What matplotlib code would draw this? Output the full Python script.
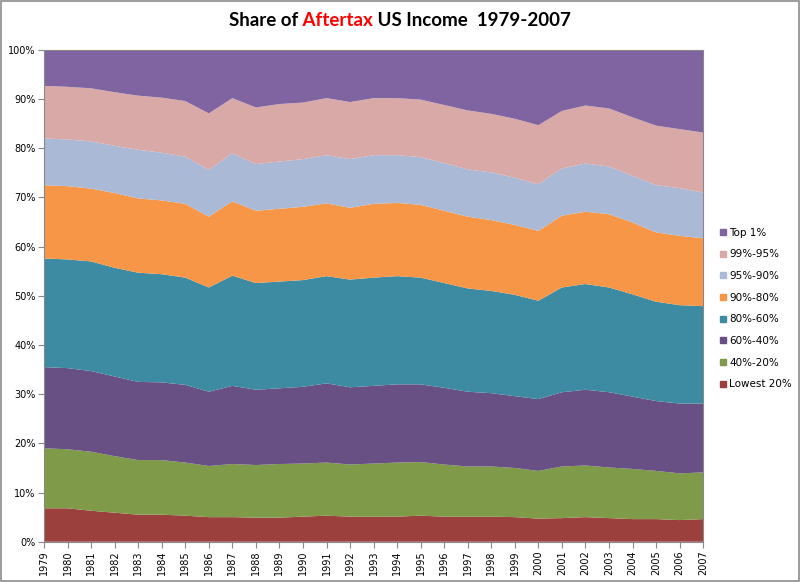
import numpy as np
import matplotlib
matplotlib.use("Agg")
import matplotlib.pyplot as plt
from matplotlib.lines import Line2D
from matplotlib.patches import Rectangle

# --- data: share of after-tax income (%) ---
years = list(range(1979, 2008))

lowest_20 = [6.8, 6.8, 6.3, 5.9, 5.5, 5.5, 5.3, 5.0, 5.0, 4.9, 4.9, 5.1, 5.3, 5.1, 5.1,
             5.1, 5.3, 5.1, 5.1, 5.1, 5.0, 4.7, 4.8, 5.0, 4.8, 4.6, 4.6, 4.4, 4.6]
q_40_20 = [12.2, 12.0, 12.0, 11.5, 11.1, 11.1, 10.8, 10.4, 10.8, 10.7, 10.9, 10.8, 10.8, 10.6, 10.8,
           11.0, 10.9, 10.6, 10.2, 10.2, 10.0, 9.7, 10.5, 10.5, 10.3, 10.2, 9.8, 9.5, 9.5]
q_60_40 = [16.5, 16.5, 16.4, 16.2, 15.9, 15.8, 15.8, 15.1, 15.9, 15.3, 15.4, 15.6, 16.1, 15.7, 15.8,
           15.9, 15.8, 15.6, 15.2, 14.9, 14.6, 14.6, 15.1, 15.4, 15.3, 14.7, 14.2, 14.2, 14.0]
q_80_60 = [22.1, 22.1, 22.3, 22.1, 22.2, 22.0, 21.8, 21.2, 22.4, 21.7, 21.7, 21.7, 21.8, 21.9, 22.0,
           22.0, 21.7, 21.3, 21.0, 20.8, 20.6, 20.0, 21.3, 21.5, 21.3, 20.8, 20.2, 20.0, 19.8]
p_90_80 = [14.9, 14.9, 14.8, 15.2, 15.1, 15.0, 15.0, 14.4, 15.1, 14.7, 14.8, 14.9, 14.8, 14.6, 15.0,
           14.9, 14.8, 14.7, 14.6, 14.4, 14.2, 14.2, 14.6, 14.7, 14.9, 14.6, 14.1, 14.1, 13.8]
p_95_90 = [9.5, 9.5, 9.6, 9.6, 9.9, 9.7, 9.6, 9.5, 9.8, 9.5, 9.6, 9.7, 9.8, 9.9, 9.9,
           9.7, 9.7, 9.7, 9.6, 9.7, 9.6, 9.5, 9.6, 9.8, 9.7, 9.5, 9.6, 9.7, 9.3]
p_99_95 = [10.7, 10.7, 10.8, 10.9, 11.0, 11.2, 11.3, 11.5, 11.2, 11.5, 11.7, 11.5, 11.6, 11.6, 11.6,
           11.6, 11.7, 11.8, 12.0, 11.9, 12.0, 12.0, 11.7, 11.8, 11.8, 11.9, 12.1, 12.0, 12.2]
top_1 = [7.3, 7.5, 7.8, 8.6, 9.3, 9.7, 10.4, 12.9, 9.8, 11.7, 11.0, 10.7, 9.8, 10.6, 9.8,
         9.8, 10.1, 11.2, 12.3, 13.0, 14.0, 15.3, 12.4, 11.3, 11.9, 13.7, 15.4, 16.1, 16.8]

labels = ["Lowest 20%", "40%-20%", "60%-40%", "80%-60%", "90%-80%", "95%-90%", "99%-95%", "Top 1%"]
colors = ["#9C403D", "#7F9A48", "#684F84", "#3C8BA2", "#F79646", "#AAB9D6", "#D9A9A8", "#8064A2"]

series = np.array([lowest_20, q_40_20, q_60_40, q_80_60, p_90_80, p_95_90, p_99_95, top_1])
# normalise to a 100% stack like the spreadsheet chart
series = series / series.sum(axis=0) * 100

fig = plt.figure(figsize=(8.0, 5.82), dpi=100)
fig.patches.append(Rectangle((0.001, 0.001), 0.998, 0.998, transform=fig.transFigure,
                             fill=False, edgecolor="#8c8c8c", lw=1.2))
ax = fig.add_axes([0.055, 0.0692, 0.824, 0.845])

ax.stackplot(years, series, colors=colors, linewidth=0)

ax.set_xlim(years[0], years[-1])
ax.set_ylim(0, 100)
ax.set_yticks(np.arange(0, 101, 10))
ax.set_yticklabels([f"{v}%" for v in range(0, 101, 10)], fontsize=7)
ax.set_xticks(years)
ax.set_xticklabels([str(y) for y in years], rotation=90, fontsize=7)
ax.tick_params(axis="both", direction="out", length=4, width=0.8, color="#888888", pad=2)
for s in ax.spines.values():
    s.set_color("#888888")
    s.set_linewidth(0.8)

# legend, top entry first
handles = [Line2D([], [], marker="s", linestyle="", color=c, markersize=5)
           for c in colors[::-1]]
fig.legend(handles, labels[::-1], loc="center left", bbox_to_anchor=(0.892, 0.470),
           frameon=False, fontsize=7.5, labelspacing=1.12, handletextpad=0.1,
           handlelength=1.0, borderaxespad=0)

# title with a red word
parts = [("Share of", "black"), (" Aftertax", "red"), (" US Income  1979-2007", "black")]
fig.canvas.draw()
r = fig.canvas.get_renderer()
texts = []
for s, c in parts:
    t = fig.text(0, 0.965, s, color=c, fontsize=13.5, fontweight="bold",
                 family="Lato", ha="left", va="center")
    texts.append(t)
widths = [t.get_window_extent(r).width for t in texts]
x = 0.5 * fig.bbox.width - sum(widths) / 2
for t, w in zip(texts, widths):
    t.set_x(x / fig.bbox.width)
    x += w

fig.savefig("out.png", dpi=100)
